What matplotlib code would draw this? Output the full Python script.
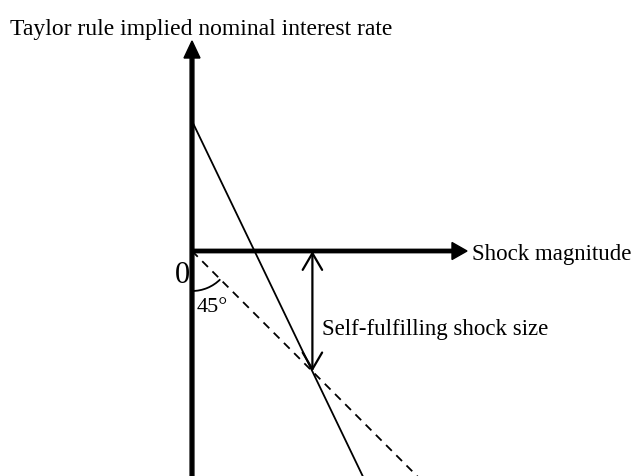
import matplotlib
matplotlib.use('Agg')
import matplotlib.pyplot as plt
from matplotlib.patches import Arc

plt.rcParams['font.family'] = ['Liberation Serif', 'DejaVu Serif']

# Taylor rule line (shock magnitude -> implied nominal rate)
taylor_shock = [0.0, 1.80]
taylor_rate = [1.30, -2.444]
# 45 degree line (rate = -shock)
diag_shock = [0.0, 2.50]
diag_rate = [0.0, -2.50]
# self-fulfilling shock (intersection)
sf_shock = 1.204
sf_rate = -1.204

fig = plt.figure(figsize=(6.38, 4.77), dpi=100)
ax = fig.add_axes([0, 0, 1, 1])
ax.set_xlim(-1.92, 4.46)
ax.set_ylim(-2.25, 2.52)
ax.axis('off')

# axes with arrows
ax.arrow(0, -2.4, 0, 2.4 + 2.10, width=0.038, head_width=0.16, head_length=0.17,
         length_includes_head=True, color='black')
ax.arrow(0, 0, 2.75, 0, width=0.034, head_width=0.17, head_length=0.15,
         length_includes_head=True, color='black')

ax.plot(taylor_shock, taylor_rate, color='black', lw=1.3)
ax.plot(diag_shock, diag_rate, color='black', lw=1.3, ls=(0, (4.5, 3.5)))

ax.annotate('', xy=(sf_shock, 0), xytext=(sf_shock, sf_rate),
            arrowprops=dict(arrowstyle='<->,head_length=0.6,head_width=0.35',
                            lw=1.6, color='black', mutation_scale=20,
                            shrinkA=0, shrinkB=0))

ax.add_patch(Arc((0, 0), 0.8, 0.8, theta1=-90, theta2=-45, lw=1.3, color='black'))

ax.text(-1.82, 2.17, 'Taylor rule implied nominal interest rate', fontsize=17, va='baseline')
ax.text(2.80, -0.08, 'Shock magnitude', fontsize=16.5, va='baseline')
ax.text(1.30, -0.83, 'Self-fulfilling shock size', fontsize=16.5, va='baseline')
ax.text(-0.015, -0.31, '0', fontsize=22, ha='right', va='baseline')
ax.text(0.05, -0.60, '45°', fontsize=16, va='baseline')

fig.savefig('out.png', dpi=100)
